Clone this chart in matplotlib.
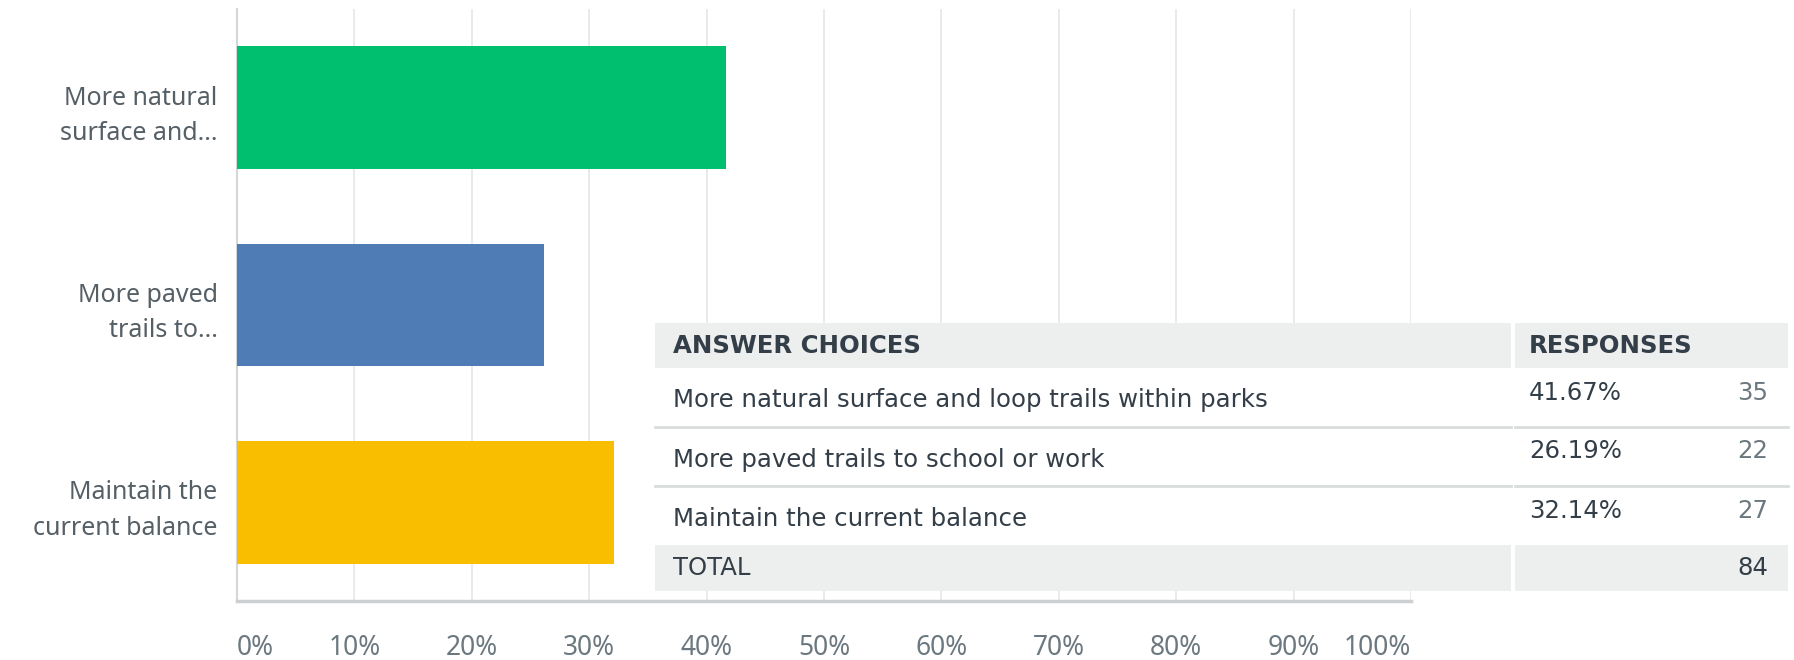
import numpy as np
import matplotlib.pyplot as plt
from matplotlib.patches import Rectangle

plt.rcParams['font.family'] = ['Noto Sans', 'DejaVu Sans']

# survey answers
choices = ['More natural surface and loop trails within parks',
           'More paved trails to school or work',
           'Maintain the current balance']
short_labels = ['More natural\nsurface and...',
                'More paved\ntrails to...',
                'Maintain the\ncurrent balance']
percents = [41.67, 26.19, 32.14]
counts = [35, 22, 27]
total = 84
bar_colors = ['#00BF6F', '#507CB6', '#F9BE00']
xticks = np.arange(0, 101, 10)

W, H = 1794, 660
fig = plt.figure(figsize=(W / 100, H / 100), dpi=100)
fig.patch.set_facecolor('white')

# main bar chart, placed in pixel units
left, right, top, bottom = 237, 1411, 9, 601
ax = fig.add_axes([left / W, 1 - bottom / H, (right - left) / W, (bottom - top) / H])
ypos = np.arange(len(percents))
ax.barh(ypos, percents, height=0.62, color=bar_colors, zorder=3)
ax.set_xlim(0, 100)
ax.set_ylim(2.5, -0.5)
ax.set_xticks(xticks)
ax.set_xticklabels(['%d%%' % t for t in xticks], fontsize=19, color='#6B787F')
lbls = ax.get_xticklabels()
lbls[0].set_ha('left')
lbls[-1].set_ha('right')
ax.set_yticks(ypos)
ax.set_yticklabels(short_labels, fontsize=18, color='#555F66', linespacing=1.55)
ax.tick_params(axis='both', length=0)
ax.tick_params(axis='x', pad=24)
ax.tick_params(axis='y', pad=14)
ax.grid(axis='x', color='#E4E6E7', linewidth=1.2, zorder=0)
for s in ['top', 'right']:
    ax.spines[s].set_visible(False)
ax.spines['left'].set_color('#D4D7D9')
ax.spines['left'].set_linewidth(1.5)
ax.spines['bottom'].set_color('#CDD0D2')
ax.spines['bottom'].set_linewidth(2.5)

# summary table drawn on an overlay in pixel coordinates
tab = fig.add_axes([0, 0, 1, 1], zorder=5)
tab.set_xlim(0, W)
tab.set_ylim(H, 0)
tab.axis('off')

c0, c1, c2, c3 = 655, 1511, 1515, 1788
rows = [323, 368, 427, 486, 545, 591]
header_bg = '#EDEEEE'
dark = '#333E48'
grey = '#6B787F'
tfont = 'DejaVu Sans'
tsize = 17.6

def cell(x0, x1, y0, y1, color):
    tab.add_patch(Rectangle((x0, y0), x1 - x0, y1 - y0, facecolor=color,
                            edgecolor='none'))

cell(c0, c1, rows[0], rows[1], header_bg)
cell(c2, c3, rows[0], rows[1], header_bg)
for i in range(3):
    cell(c0, c1, rows[i + 1], rows[i + 2], 'white')
    cell(c2, c3, rows[i + 1], rows[i + 2], 'white')
cell(c0, c1, rows[4], rows[5], header_bg)
cell(c2, c3, rows[4], rows[5], header_bg)
for y in rows[2:4]:
    tab.plot([c0, c1], [y, y], color='#D9DCDD', lw=2)
    tab.plot([c2, c3], [y, y], color='#D9DCDD', lw=2)

tx, px, nx = 673, 1529, 1768
tab.text(tx, 346, 'ANSWER CHOICES', fontsize=tsize, fontweight='bold',
         family=tfont, color=dark, va='center')
tab.text(px, 346, 'RESPONSES', fontsize=tsize, fontweight='bold',
         family=tfont, color=dark, va='center')
for i in range(3):
    ymid = (rows[i + 1] + rows[i + 2]) / 2
    tab.text(tx, ymid + 3, choices[i], fontsize=tsize, family=tfont,
             color=dark, va='center')
    tab.text(px, ymid - 5, '%.2f%%' % percents[i], fontsize=tsize,
             family=tfont, color=dark, va='center')
    tab.text(nx, ymid - 5, str(counts[i]), fontsize=tsize, family=tfont,
             color=grey, va='center', ha='right')
tab.text(tx, 568, 'TOTAL', fontsize=tsize, family=tfont, color=dark,
         va='center')
tab.text(nx, 568, str(total), fontsize=tsize, family=tfont, color=dark,
         va='center', ha='right')

fig.savefig('out.png', dpi=100)
